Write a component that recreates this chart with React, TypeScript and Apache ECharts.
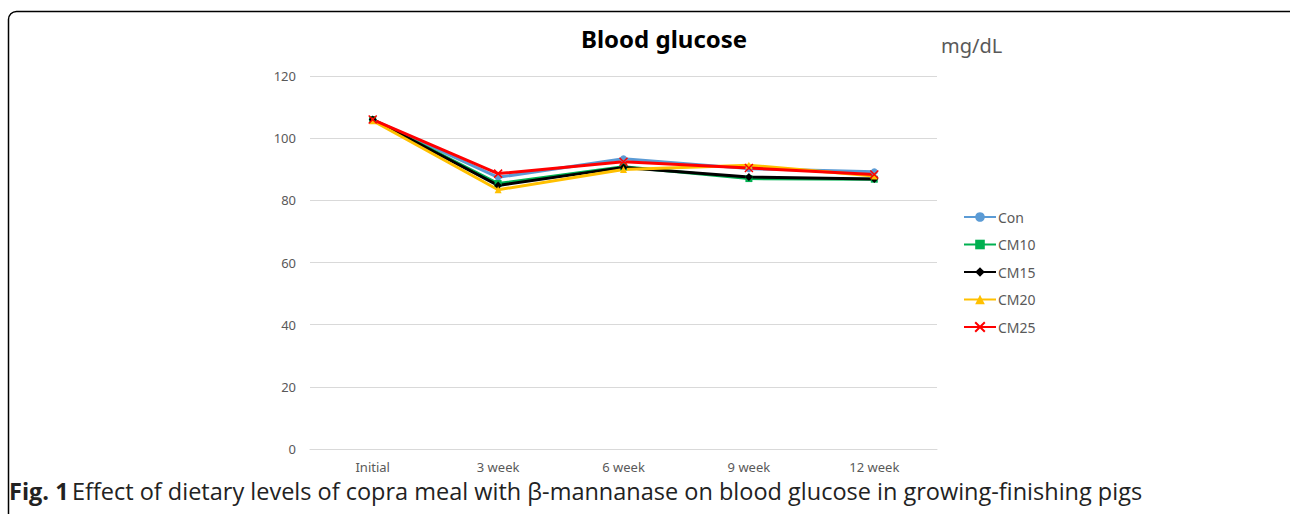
import React, { useEffect, useRef } from "react";
import * as echarts from "echarts";

const categories = ["Initial", "3 week", "6 week", "9 week", "12 week"];
const seriesNames = ["Con", "CM10", "CM15", "CM20", "CM25"];
const con = [106, 87.4, 93.4, 90.2, 89.2];
const cm10 = [106, 85.4, 90.8, 87.0, 86.8];
const cm15 = [106, 84.8, 90.6, 87.5, 86.9];
const cm20 = [105.6, 83.4, 89.9, 91.3, 87.8];
const cm25 = [106, 88.6, 92.4, 90.4, 88.3];
const yTicks = { min: 0, max: 120, interval: 20 };

const colors = ["#5B9BD5", "#00B050", "#000000", "#FFC000", "#FF0000"];
const symbols = [
  "circle",
  "rect",
  "diamond",
  "triangle",
  "path://M0,0L10,10M10,0L0,10",
];

export default function App() {
  const ref = useRef<HTMLDivElement>(null);
  useEffect(() => {
    document.body.style.margin = "0";
    if (!ref.current) return;
    const chart = echarts.init(ref.current, undefined, { renderer: "svg" });
    const data = [con, cm10, cm15, cm20, cm25];
    chart.setOption({
      animation: false,
      backgroundColor: "#ffffff",
      title: {
        text: "Blood glucose",
        left: 576,
        top: 21,
        textStyle: {
          fontFamily: "Noto Sans",
          fontWeight: "bold",
          fontSize: 24,
          color: "#000000",
        },
      },
      grid: { left: 310, right: 353, top: 76, bottom: 65 },
      legend: {
        orient: "vertical",
        left: 958,
        top: 205,
        itemWidth: 32,
        itemHeight: 12,
        itemGap: 13.5,
        textStyle: { fontFamily: "Noto Sans", fontSize: 14, color: "#595959", padding: [0, 0, 0, -3] },
        data: seriesNames,
      },
      xAxis: {
        type: "category",
        data: categories,
        axisLine: { lineStyle: { color: "#d9d9d9", width: 1 } },
        axisTick: { show: false },
        axisLabel: { fontFamily: "Noto Sans", fontSize: 13, color: "#595959", margin: 11, lineHeight: 14 },
      },
      yAxis: {
        type: "value",
        min: yTicks.min,
        max: yTicks.max,
        interval: yTicks.interval,
        axisLine: { show: false },
        axisTick: { show: false },
        axisLabel: { fontFamily: "Noto Sans", fontSize: 13, color: "#595959", margin: 14 },
        splitLine: { lineStyle: { color: "#d9d9d9", width: 1 } },
      },
      series: seriesNames.map((name, i) => ({
        name,
        type: "line",
        data: data[i],
        symbol: symbols[i],
        symbolSize: i === 4 ? 8 : i === 2 ? 8 : 7,
        lineStyle: { color: colors[i], width: 3 },
        itemStyle: {
          color: colors[i],
          borderColor: colors[i],
          borderWidth: i === 4 ? 1.5 : 0,
        },
      })),
      graphic: [
        {
          type: "rect",
          shape: { x: 8.5, y: 11.5, width: 1300, height: 700, r: 8 },
          style: { fill: "none", stroke: "#000000", lineWidth: 1.5 },
          silent: true,
        },
        {
          type: "text",
          left: 941,
          top: 35,
          style: {
            text: "mg/dL",
            fontFamily: "Noto Sans",
            fontSize: 20,
            fill: "#595959",
          },
        },
        {
          type: "text",
          left: 9,
          top: 479,
          style: {
            rich: {
              b: { fontFamily: "Open Sans", fontWeight: "bold", fontSize: 23.5, lineHeight: 23, fill: "#222222" },
              n: { fontFamily: "Open Sans", fontSize: 23.5, lineHeight: 23, fill: "#222222" },
            },
            text: "{b|Fig. 1} {n|Effect of dietary levels of copra meal with β-mannanase on blood glucose in growing-finishing pigs}",
          },
        },
      ],
    });
    return () => chart.dispose();
  }, []);
  return <div ref={ref} style={{ width: 1290, height: 514 }} />;
}
